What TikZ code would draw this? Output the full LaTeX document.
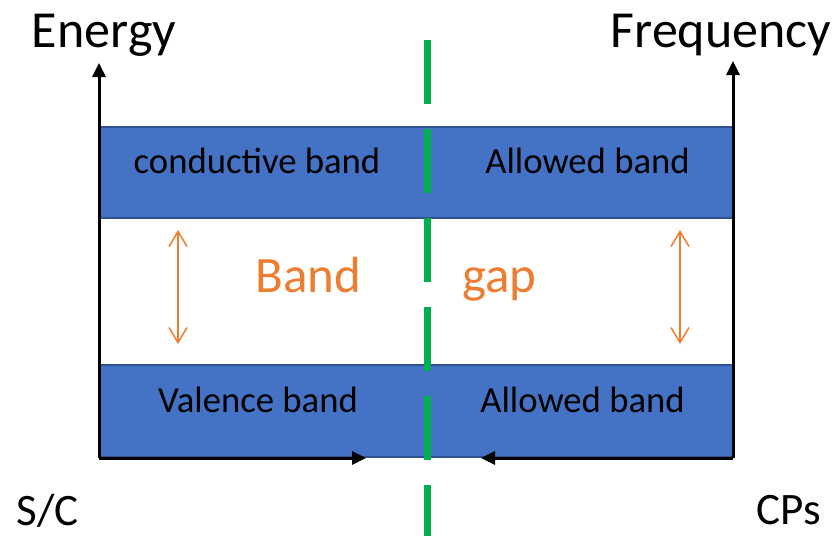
\documentclass[tikz,border=0pt]{standalone}
\usepackage{fontspec}
\setmainfont{Carlito}
\usetikzlibrary{arrows.meta}
\definecolor{bandblue}{HTML}{4472C4}
\definecolor{bandedge}{HTML}{2F528F}
\definecolor{gaporange}{HTML}{ED7D31}
\definecolor{splitgreen}{HTML}{00B050}

\begin{document}
\begin{tikzpicture}[x=1pt, y=-1pt,
  band/.style={draw=bandedge, fill=bandblue, line width=1.5pt, minimum width=634pt, inner sep=0pt},
  bandtext/.style={anchor=base, inner sep=0pt, font=\fontsize{36.7}{44}\selectfont},
  axistext/.style={anchor=base, inner sep=0pt, font=\fontsize{52}{60}\selectfont},
  sidetext/.style={anchor=base, inner sep=0pt, font=\fontsize{45}{54}\selectfont},
  gaptext/.style={anchor=base, inner sep=0pt, text=gaporange, font=\fontsize{51}{60}\selectfont},
  axis/.style={line width=3pt, -{Triangle[length=14pt, width=13pt]}},
  gaparrow/.style={draw=gaporange, line width=1.5pt, {Straight Barb[length=15pt, width=18pt]}-{Straight Barb[length=15pt, width=18pt]}}]
\useasboundingbox (0,0) rectangle (836,536);
\node (1)[band, minimum height=91pt] at (416,172.5) {};
\node (2)[band, minimum height=92pt] at (416,411) {};
\node (3)[bandtext] at (257,173) {conductive band};
\node (4)[bandtext] at (587.5,173) {Allowed band};
\node (5)[bandtext] at (258,412) {Valence band};
\node (6)[bandtext] at (582.5,412) {Allowed band};
\node (7)[gaptext] at (308.5,292) {Band};
\node (8)[gaptext] at (499.5,292) {gap};
\node (9)[axistext] at (104,47) {Energy};
\node (10)[axistext] at (721,47) {Frequency};
\node (11)[sidetext] at (47.5,525) {S/C};
\node (12)[sidetext] at (788.5,524) {CPs};
% axes
\coordinate (o1) at (99,458);
\coordinate (e1) at (99,63);
\coordinate (h1) at (366,458);
\coordinate (o2) at (733,458);
\coordinate (e2) at (733,61);
\coordinate (h2) at (481,458);
\draw[axis] (o1) -- (e1);
\draw[axis] (o1) -- (h1);
\draw[axis] (o2) -- (e2);
\draw[axis] (o2) -- (h2);
% gap arrows
\coordinate (a1) at (178,230);
\coordinate (b1) at (178,344);
\coordinate (a2) at (680,230);
\coordinate (b2) at (680,344);
\draw[gaparrow] (a1) -- (b1);
\draw[gaparrow] (a2) -- (b2);
% split line
\coordinate (g1) at (427,40);
\coordinate (g2) at (427,536);
\draw[splitgreen, line width=7pt, dash pattern=on 64pt off 25pt] (g1) -- (g2);
\end{tikzpicture}
\end{document}
